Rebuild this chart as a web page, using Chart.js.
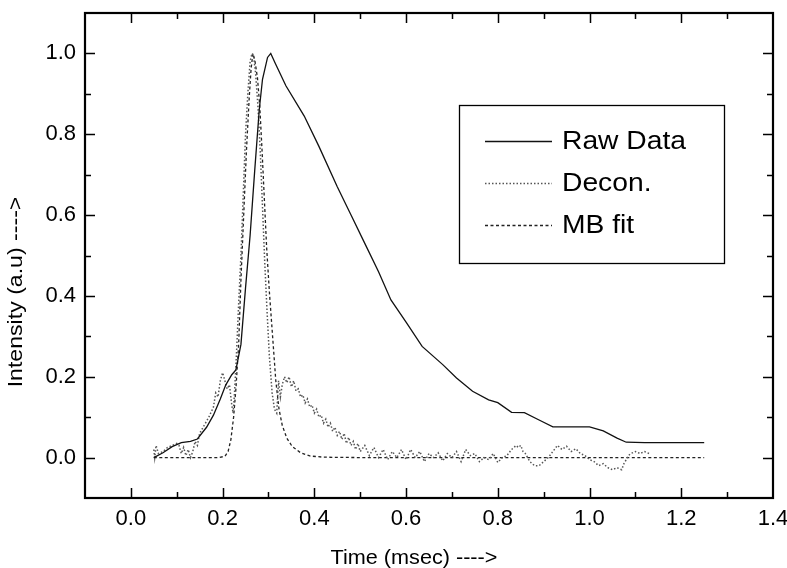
<!DOCTYPE html>
<html>
<head>
<meta charset="utf-8">
<script src="https://cdn.jsdelivr.net/npm/chart.js@4"></script>
<style>
  html, body { margin: 0; padding: 0; background: #fff; }
  canvas { display: block; }
</style>
</head>
<body>
<canvas id="myChart" width="787" height="568"></canvas>
<script>
// Raw Data (solid line)
const rawX = [0.05, 0.07, 0.09, 0.11, 0.13, 0.145, 0.165, 0.18, 0.195, 0.207, 0.22, 0.229, 0.24,
  0.25, 0.26, 0.27, 0.28, 0.287, 0.298, 0.305, 0.315, 0.338, 0.378, 0.41, 0.45, 0.48, 0.51, 0.54,
  0.567, 0.6, 0.635, 0.68, 0.71, 0.745, 0.78, 0.8, 0.83, 0.858, 0.89, 0.92, 0.96, 1.0, 1.03, 1.06,
  1.08, 1.12, 1.25];
const rawY = [0.0, 0.012, 0.027, 0.037, 0.04, 0.046, 0.075, 0.105, 0.145, 0.18, 0.205, 0.217, 0.28,
  0.42, 0.55, 0.71, 0.862, 0.936, 0.99, 1.0, 0.975, 0.92, 0.845, 0.77, 0.67, 0.6, 0.53, 0.46,
  0.39, 0.335, 0.275, 0.23, 0.197, 0.164, 0.143, 0.136, 0.112, 0.111, 0.093, 0.076, 0.076, 0.076, 0.066, 0.048,
  0.038, 0.037, 0.037];

// Decon. (dotted, noisy)
const deconX = [0.05, 0.052, 0.055, 0.06, 0.07, 0.08, 0.09, 0.1, 0.105, 0.11, 0.115, 0.12, 0.125, 0.13,
  0.135, 0.14, 0.145, 0.15, 0.16, 0.17, 0.18, 0.185, 0.19, 0.195, 0.2, 0.205, 0.21, 0.215, 0.22,
  0.223, 0.226, 0.23, 0.235, 0.24, 0.245, 0.25, 0.255, 0.26, 0.264, 0.268, 0.272, 0.277, 0.282,
  0.287, 0.292, 0.297, 0.302, 0.308, 0.313, 0.318, 0.322, 0.326, 0.33, 0.335, 0.34, 0.345, 0.35,
  0.355, 0.36, 0.365, 0.37, 0.375, 0.38, 0.385, 0.39, 0.395, 0.4, 0.405, 0.41, 0.415, 0.42, 0.425,
  0.43, 0.435, 0.44, 0.445, 0.45, 0.455, 0.46, 0.465, 0.47, 0.475, 0.48, 0.485, 0.49, 0.495, 0.5,
  0.51, 0.52, 0.53, 0.54, 0.55, 0.56, 0.57, 0.58, 0.59, 0.6, 0.61, 0.62, 0.63, 0.64, 0.65, 0.66,
  0.67, 0.68, 0.69, 0.7, 0.71, 0.72, 0.73, 0.74, 0.75, 0.76, 0.77, 0.78, 0.79, 0.8, 0.81, 0.82,
  0.83, 0.84, 0.845, 0.85, 0.855, 0.86, 0.87, 0.88, 0.89, 0.9, 0.91, 0.92, 0.93, 0.94, 0.95, 0.96,
  0.97, 0.98, 0.99, 1.0, 1.01, 1.02, 1.03, 1.04, 1.05, 1.06, 1.07, 1.075, 1.08, 1.085, 1.09, 1.1,
  1.11, 1.12, 1.13];
const deconY = [0.02, 0.0, 0.03, 0.01, 0.015, 0.025, 0.03, 0.035, 0.03, 0.01, 0.025, 0.005, 0.02, 0.0,
  0.015, 0.04, 0.03, 0.06, 0.08, 0.1, 0.125, 0.16, 0.15, 0.19, 0.21, 0.19, 0.17, 0.18, 0.13,
  0.11, 0.16, 0.25, 0.38, 0.5, 0.65, 0.8, 0.9, 0.98, 1.0, 0.99, 0.95, 0.87, 0.76,
  0.62, 0.48, 0.36, 0.25, 0.16, 0.12, 0.11, 0.19, 0.15, 0.18, 0.2, 0.185, 0.2, 0.175,
  0.19, 0.165, 0.17, 0.15, 0.155, 0.135, 0.145, 0.125, 0.13, 0.11, 0.12, 0.1, 0.105, 0.085, 0.095,
  0.075, 0.085, 0.065, 0.075, 0.055, 0.065, 0.045, 0.06, 0.035, 0.05, 0.03, 0.04, 0.02, 0.035, 0.015,
  0.03, 0.005, 0.025, 0.0, 0.02, -0.005, 0.015, 0.0, 0.02, -0.005, 0.02, 0.0, 0.015, -0.01, 0.01, 0.0,
  0.012, -0.008, 0.01, 0.0, 0.015, -0.01, 0.02, 0.005, 0.01, -0.01, 0.0, -0.005, 0.01, -0.012, 0.0, 0.005,
  0.02, 0.03, 0.025, 0.03, 0.015, 0.01, -0.01, -0.02, -0.02, -0.01, 0.0, 0.015, 0.03, 0.02, 0.028, 0.015,
  0.022, 0.01, 0.005, -0.005, -0.01, -0.02, -0.015, -0.025, -0.03, -0.025, -0.03, -0.015, -0.005, 0.005, 0.01, 0.015,
  0.01, 0.015, 0.01];

// MB fit (dashed)
const mbX = [0.05, 0.1, 0.15, 0.19, 0.205, 0.212, 0.218, 0.224, 0.229, 0.235, 0.24, 0.246, 0.252,
  0.258, 0.262, 0.266, 0.27, 0.276, 0.281, 0.286, 0.291, 0.296, 0.302, 0.309, 0.316, 0.323, 0.33,
  0.34, 0.352, 0.37, 0.39, 0.42, 0.5, 1.25];
const mbY = [0.0, 0.0, 0.0, 0.0, 0.003, 0.015, 0.044, 0.1, 0.17, 0.28, 0.44, 0.6, 0.76,
  0.89, 0.96, 1.0, 0.985, 0.94, 0.87, 0.76, 0.64, 0.52, 0.41, 0.3, 0.19, 0.12, 0.08,
  0.048, 0.027, 0.012, 0.004, 0.001, 0.0, 0.0];

const xTicks = [0.0, 0.2, 0.4, 0.6, 0.8, 1.0, 1.2, 1.4];
const yTicks = [0.0, 0.2, 0.4, 0.6, 0.8, 1.0];

const FONT = "'Liberation Sans', Arial, sans-serif";
const toPoints = (xs, ys) => xs.map((x, i) => ({ x: x, y: ys[i] }));

// frame box with inward major/minor ticks on all four sides
const framePlugin = {
  id: "frame",
  afterDatasetsDraw(chart) {
    const { ctx, chartArea: a, scales } = chart;
    ctx.save();
    ctx.strokeStyle = "#000";
    ctx.lineWidth = 1.5;
    for (let k = -1; k <= 14; k++) {
      const v = k / 10;
      const len = k % 2 === 0 ? 10 : 6;
      const px = Math.round(scales.x.getPixelForValue(v)) + 0.5;
      if (px <= a.left + 1 || px >= a.right - 1) continue;
      ctx.beginPath();
      ctx.moveTo(px, a.bottom); ctx.lineTo(px, a.bottom - len);
      ctx.moveTo(px, a.top); ctx.lineTo(px, a.top + len);
      ctx.stroke();
    }
    for (let k = -1; k <= 11; k++) {
      const v = k / 10;
      const len = k % 2 === 0 ? 10 : 6;
      const py = Math.round(scales.y.getPixelForValue(v)) + 0.5;
      if (py <= a.top + 1 || py >= a.bottom - 1) continue;
      ctx.beginPath();
      ctx.moveTo(a.left, py); ctx.lineTo(a.left + len, py);
      ctx.moveTo(a.right, py); ctx.lineTo(a.right - len, py);
      ctx.stroke();
    }
    ctx.lineWidth = 2.2;
    ctx.strokeRect(a.left, a.top, a.right - a.left, a.bottom - a.top);
    ctx.restore();
  }
};

// boxed legend inside the plot, and the two axis titles
const legendPlugin = {
  id: "boxLegend",
  afterDraw(chart) {
    const ctx = chart.ctx;
    ctx.save();
    ctx.fillStyle = "#fff";
    ctx.fillRect(459, 105, 265, 158);
    ctx.strokeStyle = "#000";
    ctx.lineWidth = 1.3;
    ctx.strokeRect(459.5, 105.5, 265, 158);

    chart.data.datasets.forEach((ds, i) => {
      const y = 141 + i * 42;
      ctx.beginPath();
      ctx.strokeStyle = ds.borderColor;
      ctx.lineWidth = ds.borderWidth;
      ctx.setLineDash(ds.borderDash || []);
      ctx.moveTo(485, y + 0.5);
      ctx.lineTo(552, y + 0.5);
      ctx.stroke();
      ctx.setLineDash([]);
      ctx.save();
      ctx.translate(562, y);
      ctx.scale(1.13, 1);
      ctx.fillStyle = "#000";
      ctx.font = "25px " + FONT;
      ctx.textBaseline = "middle";
      ctx.textAlign = "left";
      ctx.fillText(ds.label, 0, 1);
      ctx.restore();
    });

    ctx.fillStyle = "#000";
    ctx.font = "21px " + FONT;
    ctx.textAlign = "center";
    ctx.textBaseline = "alphabetic";
    ctx.save();
    ctx.translate(414, 564);
    ctx.scale(1.03, 1);
    ctx.fillText("Time (msec) ---->", 0, 0);
    ctx.restore();

    ctx.save();
    ctx.translate(22, 292);
    ctx.rotate(-Math.PI / 2);
    ctx.scale(1.1, 1);
    ctx.fillText("Intensity (a.u) ---->", 0, 0);
    ctx.restore();
    ctx.restore();
  }
};

new Chart(document.getElementById("myChart"), {
  type: "line",
  data: {
    datasets: [
      {
        label: "Raw Data",
        data: toPoints(rawX, rawY),
        borderColor: "#111",
        borderWidth: 1.3,
        pointRadius: 0,
        tension: 0
      },
      {
        label: "Decon.",
        data: toPoints(deconX, deconY),
        borderColor: "#555",
        borderWidth: 1.5,
        borderDash: [1.5, 2],
        pointRadius: 0,
        tension: 0
      },
      {
        label: "MB fit",
        data: toPoints(mbX, mbY),
        borderColor: "#222",
        borderWidth: 1.3,
        borderDash: [3, 2.5],
        pointRadius: 0,
        tension: 0
      }
    ]
  },
  options: {
    responsive: false,
    animation: false,
    devicePixelRatio: 1,
    layout: { padding: { top: 13, right: 14, left: 0, bottom: 0 } },
    plugins: {
      legend: { display: false },
      tooltip: { enabled: false }
    },
    scales: {
      x: {
        type: "linear",
        min: -0.1,
        max: 1.4,
        grid: { display: false, drawTicks: false },
        border: { display: false },
        afterBuildTicks: (s) => { s.ticks = xTicks.map((v) => ({ value: v })); },
        afterFit: (s) => { s.height = 70; s.paddingLeft = 0; s.paddingRight = 0; },
        ticks: {
          color: "#000",
          font: { family: FONT, size: 22 },
          padding: 8,
          maxRotation: 0,
          autoSkip: false,
          callback: (v) => Number(v).toFixed(1)
        }
      },
      y: {
        min: -0.1,
        max: 1.1,
        grid: { display: false, drawTicks: false },
        border: { display: false },
        afterBuildTicks: (s) => { s.ticks = yTicks.map((v) => ({ value: v })); },
        afterFit: (s) => { s.width = 85; s.paddingTop = 0; s.paddingBottom = 0; },
        ticks: {
          color: "#000",
          font: { family: FONT, size: 22 },
          padding: 9,
          autoSkip: false,
          callback: (v) => Number(v).toFixed(1)
        }
      }
    }
  },
  plugins: [framePlugin, legendPlugin]
});
</script>
</body>
</html>
